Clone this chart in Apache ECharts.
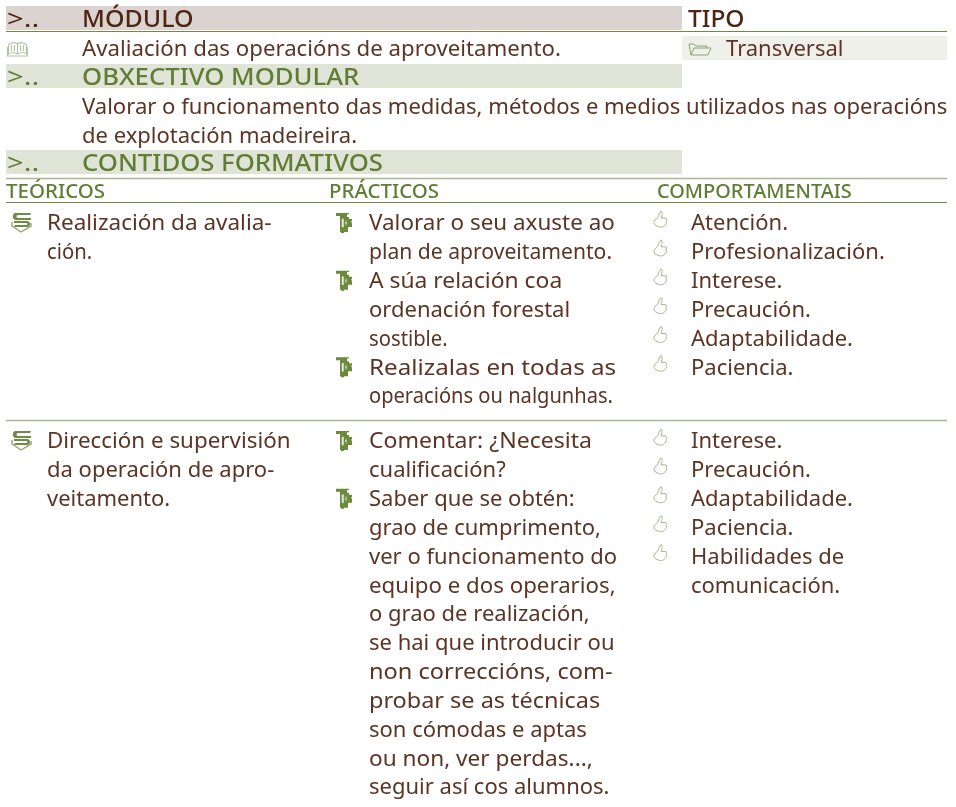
<!DOCTYPE html>
<html><head><meta charset="utf-8">
<style>html,body{margin:0;padding:0;background:#fff}#c{width:956px;height:807px}</style>
<script src="https://cdn.jsdelivr.net/npm/echarts@6/dist/echarts.min.js"></script>
</head><body><div id="c"></div>
<script>
const headMarker = '>..';
const moduleTitle = 'MÓDULO';
const moduleName = 'Avaliación das operacións de aproveitamento.';
const typeTitle = 'TIPO';
const typeName = 'Transversal';
const objectiveTitle = 'OBXECTIVO MODULAR';
const objectiveLines = ['Valorar o funcionamento das medidas, métodos e medios utilizados nas operacións', 'de explotación madeireira.'];
const contentsTitle = 'CONTIDOS FORMATIVOS';
const columnTitles = ['TEÓRICOS', 'PRÁCTICOS', 'COMPORTAMENTAIS'];
const row1Theory = [['Realización da avalia-', 'ción.']];
const row1Practice = [['Valorar o seu axuste ao', 'plan de aproveitamento.'], ['A súa relación coa', 'ordenación forestal', 'sostible.'], ['Realizalas en todas as', 'operacións ou nalgunhas.']];
const row1Behaviour = [['Atención.'], ['Profesionalización.'], ['Interese.'], ['Precaución.'], ['Adaptabilidade.'], ['Paciencia.']];
const row2Theory = [['Dirección e supervisión', 'da operación de apro-', 'veitamento.']];
const row2Practice = [['Comentar: ¿Necesita', 'cualificación?'], ['Saber que se obtén:', 'grao de cumprimento,', 'ver o funcionamento do', 'equipo e dos operarios,', 'o grao de realización,', 'se hai que introducir ou', 'non correccións, com-', 'probar se as técnicas', 'son cómodas e aptas', 'ou non, ver perdas...,', 'seguir así cos alumnos.']];
const row2Behaviour = [['Interese.'], ['Precaución.'], ['Adaptabilidade.'], ['Paciencia.'], ['Habilidades de', 'comunicación.']];

const FONT = '"Noto Sans"', BROWN = '#5b3424', DARK = '#4e2413', GREEN = '#5f7d35';
const LH = 28.85, SX = 1.0, DY = 2.5;
// Horizontal fit of justified lines (typesetting only).
const FIT = {
  'Realizalas en todas as': 1.10, 'operacións ou nalgunhas.': 0.914, 'plan de aproveitamento.': 0.96,
  'Valorar o seu axuste ao': 1.02, 'A súa relación coa': 1.038, 'Comentar: ¿Necesita': 1.047,
  'non correccións, com-': 1.07, 'probar se as técnicas': 1.065, 'ou non, ver perdas...,': 1.028,
  'Realización da avalia-': 1.023, 'Dirección e supervisión': 1.017, 'equipo e dos operarios,': 1.012,
  'Avaliación das operacións de aproveitamento.': 1.01, 'sostible.': 0.92, 'ción.': 0.92
};
const els = [];
function T(text, x, y, o = {}) {
  els.push({ type: 'text', x, y: y + DY, scaleX: o.sx || FIT[text] || SX, style: { text, fontFamily: FONT, fontSize: o.size || 22,
    fontWeight: o.weight || 400, fill: o.fill || BROWN, verticalAlign: 'middle', align: 'left' } });
}
function R(x, y, w, h, fill) { els.push({ type: 'rect', shape: { x, y, width: w, height: h }, style: { fill } }); }
function L(y, color, w) { els.push({ type: 'line', shape: { x1: 6, y1: y, x2: 947, y2: y }, style: { stroke: color, lineWidth: w } }); }
function P(name, x, y, style) { els.push({ type: name, x, y, style }); }

const G = echarts.graphic;
[['iBook', 'M1 3 C4 0 7 0 10 2 C13 0 16 0 19 3 V12 C16 10 13 10 10 12 C7 10 4 10 1 12 Z M10 2 V12 M4 3 V9 M7 3 V9 M13 3 V9 M16 3 V9 M0 5 V14 H20 V5'],
 ['iFolder', 'M3 14 L1 3 H6 L8 5 H19 V7 M3 14 L6 7 H23 L20 14 Z'],
 ['iStackA', 'M4 0 H20 L19 2 H7 C5 2 5 5 7 5 H20 V7 H5 C1 7 1 1 4 0 Z M3 8 H16 C20 8 20 14 16 14 H3 L4 12 H15 C17 12 17 10 15 10 H3 Z'],
 ['iStackB', 'M1 9 V13 L10 19 L20 13 V10'],
 ['iStump', 'M1 0 H14 V1.2 H12 V4 H14 V6 H17 V8 L16 9 L17 10 V14 H13 V19 H9 V20 H6 V19 H5 V3 H1 Z'],
 ['iStumpMark', 'M7 6 H8.5 V14 H7 Z M10 9 L12 11 M12 9 L10 11 M11 7.5 V12.5'],
 ['iThumb', 'M7 0 C9 1 8 4 7 7 H11 C13 7 13 9 12 10 C13 12 12 13 11 14 C10 16 6 17 3 15 C0 14 -1 11 1 9 C3 8 5 5 5 3 Z']
].forEach(([n, d]) => G.registerShape(n, G.extendPath(d, {})));

R(6, 6, 676, 24, '#dbd3cf');
R(682, 36, 265, 24, '#eef0e9');
R(6, 64, 676, 24, '#e0e4d6');
R(6, 150, 676, 24, '#e0e4d6');
L(31.5, '#6f8a45', 1);
L(178.5, '#a9b88f', 1.5);
L(202.5, '#6f8a45', 1);
L(420.5, '#a9b88f', 1.5);

const H = 24, HS = 1.07, MS = 1.22;
T(headMarker, 7, 18, { fill: DARK, size: H, sx: MS });
T(moduleTitle, 82, 18, { fill: DARK, weight: 500, size: H, sx: 1.04 });
T(typeTitle, 688, 18, { fill: DARK, weight: 500, size: H, sx: 1.02 });
P('iBook', 7.5, 42, { fill: 'none', stroke: '#b4c5a2', lineWidth: 1.1 });
T(moduleName, 82, 47);
P('iFolder', 688, 41, { fill: 'none', stroke: '#8ea46f', lineWidth: 1 });
T(typeName, 726, 47);
T(headMarker, 7, 76, { fill: GREEN, size: H, sx: MS });
T(objectiveTitle, 82, 76, { fill: GREEN, weight: 500, size: H, sx: HS });
objectiveLines.forEach((s, i) => T(s, 82, 105.5 + i * LH, { sx: i === 0 ? 1.003 : 1 }));
T(headMarker, 7, 162, { fill: GREEN, size: H, sx: MS });
T(contentsTitle, 82, 162, { fill: GREEN, weight: 500, size: H, sx: HS });
[6, 329, 657].forEach((x, i) => T(columnTitles[i], x, 190, { fill: GREEN, size: 19.5, weight: 500, sx: i === 2 ? 1.02 : 1.05 }));

function block(items, iconX, textX, top, icon) {
  let n = 0;
  items.forEach(lines => {
    const y = top + n * LH;
    icon(iconX, y);
    lines.forEach((s, i) => T(s, textX, y + i * LH));
    n += lines.length;
  });
}
const stack = (x, y) => {
  P('iStackA', x, y - 8.5, { fill: '#6f8a45' });
  P('iStackB', x, y - 8.5, { fill: 'none', stroke: '#8fa56c', lineWidth: 1.4 });
};
const stump = (x, y) => {
  P('iStump', x, y - 8.5, { fill: '#6c8a3c' });
  P('iStumpMark', x, y - 8.5, { fill: '#dfe6d2', stroke: '#dfe6d2', lineWidth: 0.6 });
};
const thumb = (x, y) => P('iThumb', x, y - 10.5, { fill: 'none', stroke: '#a3b68a', lineWidth: 1 });
block(row1Theory, 11, 47, 221.5, stack);
block(row1Practice, 335, 369, 221.5, stump);
block(row1Behaviour, 654, 691, 221.5, thumb);
block(row2Theory, 11, 47, 439.5, stack);
block(row2Practice, 335, 369, 439.5, stump);
block(row2Behaviour, 654, 691, 439.5, thumb);

echarts.init(document.getElementById('c'), null, { renderer: 'canvas' }).setOption({ animation: false, backgroundColor: '#fff', graphic: { elements: els } });
</script></body></html>
